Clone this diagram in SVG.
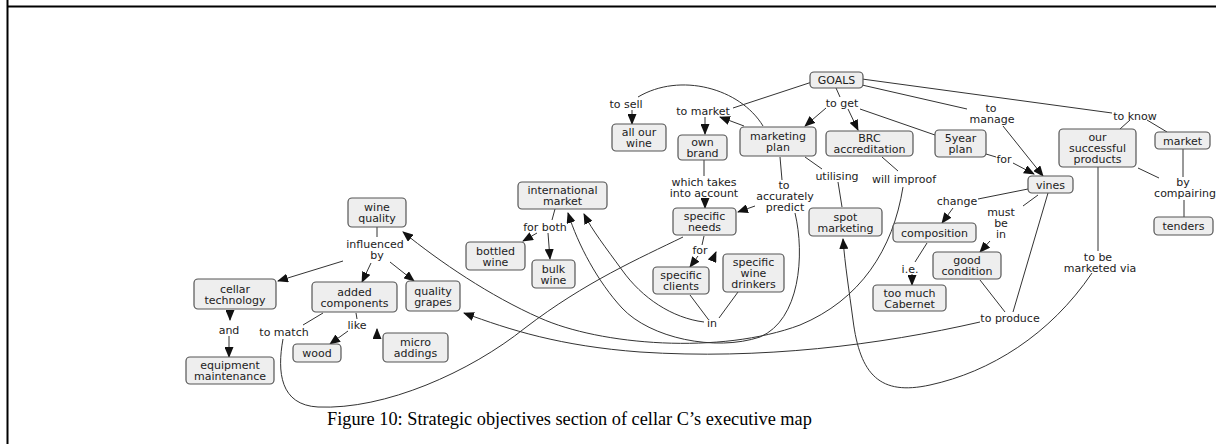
<svg xmlns="http://www.w3.org/2000/svg" width="1216" height="444" viewBox="0 0 1216 444">
<style>
.nd rect{fill:#eeeeee;stroke:#555;stroke-width:1.2}
.nd text,.lb text{font-family:"DejaVu Sans",Verdana,sans-serif;font-size:11px;fill:#222;text-anchor:middle}
.cn path{fill:none;stroke:#333;stroke-width:1}
.ar{marker-end:url(#ah)}
.cap{font-family:"Liberation Serif","Times New Roman",serif;font-size:18.3px;fill:#000}
</style>
<defs>
<marker id="ah" markerUnits="userSpaceOnUse" markerWidth="11" markerHeight="9" refX="10" refY="4.5" orient="auto">
<path d="M0,0 L11,4.5 L0,9 z" fill="#111"/>
</marker>
</defs>
<rect x="0" y="0" width="1216" height="444" fill="#fff"/>
<g id="frame" stroke="#000" stroke-width="2">
<line x1="7.5" y1="0" x2="7.5" y2="444"/>
<line x1="7" y1="6.5" x2="1216" y2="6.5"/>
</g>
<g id="connectors" class="cn">
<path d="M812,82 L733,108"/>
<path class="ar" d="M705,117 L705,134"/>
<path class="ar" d="M744,126 L720,117"/>
<path d="M763,126 C740,88 680,72 638,97"/>
<path class="ar" d="M632,110 L632,124"/>
<path d="M836,88 L840,97"/>
<path class="ar" d="M826,108 L805,126"/>
<path class="ar" d="M848,109 L858,130"/>
<path d="M860,109 L935,135"/>
<path d="M862,85 L967,109"/>
<path class="ar" d="M1003,126 L1043,176"/>
<path d="M862,79 L1112,113"/>
<path d="M1130,120 L1120,129"/>
<path d="M1147,120 L1167,132"/>
<path d="M986,154 L996,157"/>
<path class="ar" d="M1013,163 L1034,174"/>
<path d="M882,157 L898,171"/>
<path class="ar" d="M903,187 C893,250 860,300 800,325 C720,355 600,345 540,318 C490,296 440,262 403,232"/>
<path d="M805,157 L822,169"/>
<path d="M838,182 L842,207"/>
<path d="M780,157 L782,180"/>
<path class="ar" d="M755,206 L738,212"/>
<path class="ar" d="M795,213 C805,255 800,320 760,337 C715,352 650,338 622,308 C598,282 578,245 568,213"/>
<path d="M704,160 L704,176"/>
<path class="ar" d="M705,199 L705,208"/>
<path d="M704,236 L702,245"/>
<path class="ar" d="M698,256 L690,267"/>
<path class="ar" d="M713,259 L716,252"/>
<path d="M690,295 L708,319"/>
<path d="M738,292 L719,318"/>
<path class="ar" d="M704,322 C672,318 642,298 622,270 C606,248 592,230 584,214"/>
<path d="M555,209 L552,220"/>
<path class="ar" d="M537,233 L523,241"/>
<path class="ar" d="M548,233 L550,259"/>
<path d="M377,227 L377,237"/>
<path class="ar" d="M343,261 L278,281"/>
<path class="ar" d="M371,263 L362,282"/>
<path class="ar" d="M390,262 L414,281"/>
<path class="ar" d="M230,310 L230,320"/>
<path class="ar" d="M229,336 L229,357"/>
<path d="M323,313 L303,325"/>
<path d="M283,339 C277,372 280,405 318,407 C385,410 470,372 525,328 C585,282 640,258 683,237"/>
<path d="M356,313 L357,319"/>
<path class="ar" d="M348,331 L330,344"/>
<path class="ar" d="M377,337 L377,329"/>
<path d="M1028,189 L978,199"/>
<path class="ar" d="M953,208 L942,223"/>
<path d="M1038,195 L1023,206"/>
<path class="ar" d="M990,241 L980,252"/>
<path d="M927,243 L915,262"/>
<path class="ar" d="M912,274 L912,285"/>
<path d="M1048,193 L1013,312"/>
<path d="M980,280 L1005,312"/>
<path class="ar" d="M980,322 C880,345 760,360 640,352 C560,346 510,330 464,313"/>
<path d="M1098,167 L1098,251"/>
<path class="ar" d="M1092,273 C1050,335 990,372 930,385 C880,396 860,375 853,320 C849,290 845,265 843,239"/>
<path d="M1138,168 L1159,178"/>
<path d="M1183,149 L1183,177"/>
<path d="M1184,200 L1184,217"/>
</g>
<g id="labels" class="lb">
<text x="626" y="108">to sell</text>
<text x="703" y="115">to market</text>
<text x="842" y="107">to get</text>
<text x="991" y="112">to</text><text x="992" y="123">manage</text>
<text x="1135" y="120">to know</text>
<text x="1004" y="163">for</text>
<text x="904" y="183">will improof</text>
<text x="837" y="180">utilising</text>
<text x="784" y="189">to</text><text x="785" y="200">accurately</text><text x="785" y="211">predict</text>
<text x="704" y="186">which takes</text><text x="704" y="197">into account</text>
<text x="957" y="205">change</text>
<text x="1001" y="216">must</text><text x="1001" y="227">be</text><text x="1001" y="238">in</text>
<text x="910" y="273">i.e.</text>
<text x="545" y="231">for both</text>
<text x="700" y="254">for</text>
<text x="712" y="327">in</text>
<text x="375" y="248">influenced</text><text x="377" y="259">by</text>
<text x="229" y="334">and</text>
<text x="284" y="336">to match</text>
<text x="357" y="329">like</text>
<text x="1010" y="322">to produce</text>
<text x="1098" y="261">to be</text><text x="1100" y="272">marketed via</text>
<text x="1183" y="186">by</text><text x="1185" y="197">compairing</text>
</g>
<g id="n-goals" class="nd"><rect x="810" y="72" width="53" height="16" rx="4"/><text x="836.5" y="84">GOALS</text></g>
<g id="n-allourwine" class="nd"><rect x="612" y="124" width="54" height="27" rx="4"/><text x="639" y="136">all our</text><text x="639" y="147">wine</text></g>
<g id="n-ownbrand" class="nd"><rect x="678" y="135" width="49" height="25" rx="4"/><text x="702.5" y="146">own</text><text x="702.5" y="157">brand</text></g>
<g id="n-marketingplan" class="nd"><rect x="740" y="127" width="76" height="29" rx="4"/><text x="778" y="140">marketing</text><text x="778" y="151">plan</text></g>
<g id="n-brc" class="nd"><rect x="826" y="131" width="87" height="25" rx="4"/><text x="869.5" y="142">BRC</text><text x="869.5" y="153">accreditation</text></g>
<g id="n-5year" class="nd"><rect x="935" y="130" width="51" height="27" rx="4"/><text x="960.5" y="142">5year</text><text x="960.5" y="153">plan</text></g>
<g id="n-successful" class="nd"><rect x="1059" y="129" width="77" height="38" rx="4"/><text x="1097.5" y="141">our</text><text x="1097.5" y="152">successful</text><text x="1097.5" y="163">products</text></g>
<g id="n-market" class="nd"><rect x="1155" y="132" width="55" height="17" rx="4"/><text x="1182.5" y="144.5">market</text></g>
<g id="n-tenders" class="nd"><rect x="1154" y="217" width="59" height="18" rx="4"/><text x="1183.5" y="230">tenders</text></g>
<g id="n-vines" class="nd"><rect x="1028" y="176" width="45" height="17" rx="4"/><text x="1050.5" y="188.5">vines</text></g>
<g id="n-composition" class="nd"><rect x="893" y="223" width="83" height="19" rx="4"/><text x="934.5" y="236.5">composition</text></g>
<g id="n-goodcondition" class="nd"><rect x="933" y="252" width="68" height="27" rx="4"/><text x="967" y="264">good</text><text x="967" y="275">condition</text></g>
<g id="n-cabernet" class="nd"><rect x="873" y="285" width="73" height="26" rx="4"/><text x="909.5" y="296.5">too much</text><text x="909.5" y="307.5">Cabernet</text></g>
<g id="n-spotmarketing" class="nd"><rect x="809" y="208" width="73" height="28" rx="4"/><text x="845.5" y="220.5">spot</text><text x="845.5" y="231.5">marketing</text></g>
<g id="n-specificneeds" class="nd"><rect x="673" y="208" width="63" height="27" rx="4"/><text x="704.5" y="220">specific</text><text x="704.5" y="231">needs</text></g>
<g id="n-intmarket" class="nd"><rect x="518" y="182" width="89" height="27" rx="4"/><text x="562.5" y="194">international</text><text x="562.5" y="205">market</text></g>
<g id="n-bottledwine" class="nd"><rect x="466" y="242" width="59" height="28" rx="4"/><text x="495.5" y="254.5">bottled</text><text x="495.5" y="265.5">wine</text></g>
<g id="n-bulkwine" class="nd"><rect x="532" y="260" width="43" height="28" rx="4"/><text x="553.5" y="272.5">bulk</text><text x="553.5" y="283.5">wine</text></g>
<g id="n-specificclients" class="nd"><rect x="653" y="267" width="56" height="27" rx="4"/><text x="681" y="279">specific</text><text x="681" y="290">clients</text></g>
<g id="n-winedrinkers" class="nd"><rect x="723" y="254" width="61" height="38" rx="4"/><text x="753.5" y="266">specific</text><text x="753.5" y="277">wine</text><text x="753.5" y="288">drinkers</text></g>
<g id="n-winequality" class="nd"><rect x="348" y="198" width="58" height="29" rx="4"/><text x="377" y="211">wine</text><text x="377" y="222">quality</text></g>
<g id="n-cellartech" class="nd"><rect x="194" y="279" width="82" height="30" rx="4"/><text x="235" y="292.5">cellar</text><text x="235" y="303.5">technology</text></g>
<g id="n-addedcomp" class="nd"><rect x="312" y="282" width="85" height="30" rx="4"/><text x="354.5" y="295.5">added</text><text x="354.5" y="306.5">components</text></g>
<g id="n-qualitygrapes" class="nd"><rect x="406" y="281" width="54" height="30" rx="4"/><text x="433" y="294.5">quality</text><text x="433" y="305.5">grapes</text></g>
<g id="n-equipment" class="nd"><rect x="186" y="357" width="88" height="27" rx="4"/><text x="230" y="369">equipment</text><text x="230" y="380">maintenance</text></g>
<g id="n-wood" class="nd"><rect x="293" y="344" width="48" height="18" rx="4"/><text x="317" y="357">wood</text></g>
<g id="n-microaddings" class="nd"><rect x="383" y="333" width="65" height="29" rx="4"/><text x="415.5" y="346">micro</text><text x="415.5" y="357">addings</text></g>
<text class="cap" x="327" y="425">Figure 10: Strategic objectives section of cellar C’s executive map</text>
</svg>
